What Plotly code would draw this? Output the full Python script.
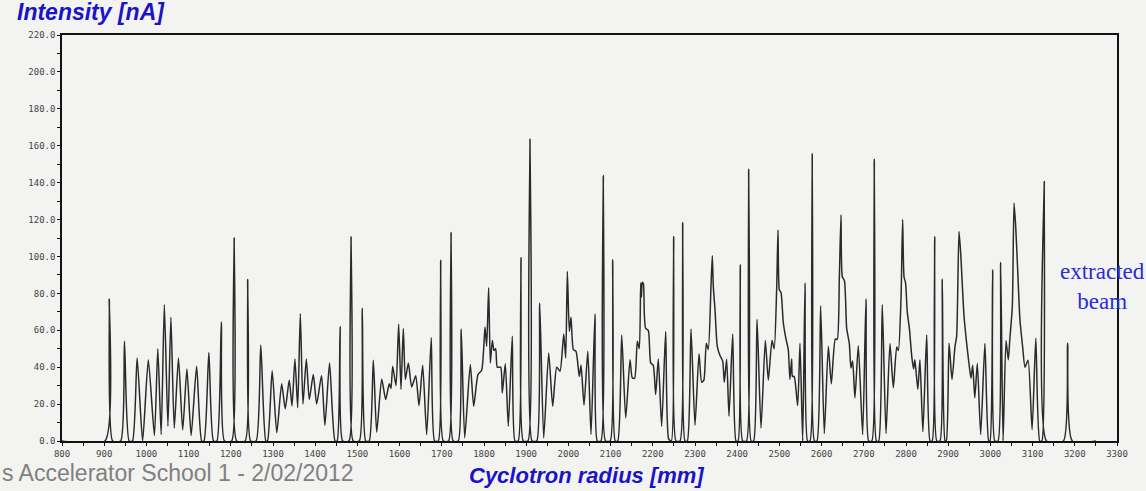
import plotly.graph_objects as go

# Traced vertices of the radial probe signal (radius in mm, intensity in nA)
radius_mm = [
    800, 902, 912, 920,
    939, 948, 959,
    967, 978, 991,
    1004.5, 1019, 1027, 1035, 1042.5, 1051, 1058, 1066, 1076, 1086, 1096, 1106, 1119, 1131,
    1136.5, 1148, 1159,
    1167, 1177.5, 1185,
    1202, 1208, 1214,
    1234, 1240, 1247,
    1260, 1271, 1283,
    1287, 1298, 1309, 1320.5, 1329, 1338.5, 1345, 1352, 1358.5, 1364.7, 1371, 1379, 1386,
    1395.5, 1403.5, 1415, 1423, 1434, 1447,
    1452, 1459, 1465,
    1480, 1485, 1490,
    1504.5, 1511.6, 1519.7,
    1528, 1537.7, 1545.7, 1557.6, 1567, 1575.6, 1579.6, 1583.6, 1591.5, 1597.8, 1603.3,
    1608.8, 1613.6, 1620.7, 1628.7, 1638.2, 1646, 1654.7, 1664.2, 1675, 1683,
    1691.7, 1697.4, 1703.5,
    1716, 1722, 1727,
    1739, 1746, 1754.3, 1767.5, 1775.6, 1785.8, 1794.5, 1802.4, 1806.3, 1811, 1815,
    1819.7, 1823.7, 1827.7, 1831.5, 1839.5, 1843.4, 1850.5, 1857.6, 1867, 1873.5,
    1881, 1887.7, 1893,
    1904, 1909, 1914,
    1925, 1932, 1941.5, 1953.3, 1962.8, 1972.3, 1980, 1989, 1993.6, 1997.5, 2002.2,
    2006.2, 2011.8, 2018, 2025.8, 2030, 2037, 2046, 2053.6, 2063, 2068.5,
    2077, 2082.7, 2088,
    2099, 2105, 2111,
    2117, 2126.3, 2135.8, 2146, 2151.4, 2157, 2163.3, 2168, 2171.3, 2173, 2175, 2177.6,
    2179.8, 2183, 2189.4, 2195, 2201, 2206.8, 2213, 2221, 2230.5, 2237.7,
    2244, 2249.5, 2255,
    2264.5, 2270.8, 2276.3,
    2281.8, 2290.5, 2300, 2309.5, 2315.8, 2321, 2326.8, 2331.5, 2337.9, 2341, 2343.4,
    2347.4, 2352.8, 2359.2, 2365.6, 2369.4, 2375, 2380.6, 2389.3, 2397.2,
    2402, 2407.3, 2413,
    2422, 2427.2, 2433,
    2439, 2447, 2456.4, 2466.6, 2473.7, 2482.5, 2487.7, 2493.5, 2496.7, 2499.8, 2503.8,
    2509.3, 2515.6, 2521, 2525, 2529, 2531, 2535, 2543.3, 2548.8, 2555.2,
    2560.7, 2566.8,
    2572.5, 2577.8, 2583,
    2589, 2597.7, 2606.4, 2615.9, 2623, 2632.5, 2637, 2642, 2646, 2649, 2654, 2659.4,
    2665.6, 2669.5, 2673.5, 2679, 2687, 2697.3, 2705.2, 2711.6,
    2719, 2724.8, 2730,
    2735.3, 2743.8, 2752.6, 2762, 2770, 2778, 2782, 2788.2, 2792, 2795.3, 2799, 2803,
    2808, 2814, 2818, 2821, 2828, 2833, 2840, 2849, 2857,
    2862, 2868, 2873,
    2880.5, 2886, 2892.6,
    2895.5, 2902, 2909, 2916, 2920, 2925.6, 2929.7, 2932.7, 2937.4, 2943.7, 2950, 2954,
    2958, 2963, 2969, 2977, 2987, 2996,
    2999, 3005.3, 3010.5,
    3018, 3024.3, 3030,
    3037, 3042.4, 3046, 3052, 3056, 3060, 3064, 3070, 3076.4, 3082, 3089.3, 3098.8,
    3107.6, 3117,
    3122, 3127.7, 3133,
    3173, 3183, 3194, 3250,
]

intensity_nA = [
    0, 0, 77, 0,
    0, 54, 0,
    0, 45, 0,
    44, 3, 50, 3.5, 74, 8, 67, 7, 45, 6, 39, 3, 40.5, 0,
    0, 48, 0,
    0, 64.5, 0,
    0, 110, 0,
    0, 87.5, 0,
    0, 52, 0,
    0, 38, 4.5, 31, 17.5, 33, 19, 44.5, 18, 69, 20, 44.5, 22.5,
    36, 20, 35.5, 8.5, 42.3, 0,
    0, 62, 0,
    0, 110.5, 0,
    0, 72, 0,
    0, 43.7, 4.8, 33.6, 22.5, 31, 28.5, 40.5, 30, 63.4, 28,
    61, 33.3, 42.3, 29.3, 35.4, 19.2, 41, 3.5, 56, 0,
    0, 98, 0,
    0, 113, 0,
    0, 60.7, 1.7, 41.4, 18.8, 36, 38.3, 61.8, 51.3, 83, 42.3,
    54.5, 49, 50, 40, 40, 26, 41.8, 8, 56.7, 0,
    0, 99.5, 0,
    0, 163.5, 0,
    0, 74.8, 1.7, 47.7, 18.8, 40, 37.8, 58, 45, 92, 59.4,
    67, 49.5, 48.6, 35, 41, 19.5, 48.6, 3.5, 68.8, 0,
    0, 143.7, 0,
    0, 98.2, 0,
    0, 57.3, 12.5, 44, 34.2, 34, 54, 50, 85.6, 78, 86, 85.3,
    69.4, 61, 59.8, 42.3, 41, 25.2, 44.5, 8, 59.4, 1,
    0, 110.8, 0,
    0, 118.4, 0,
    0, 60.7, 8.6, 47.3, 31.8, 33, 53, 49.6, 83.8, 100.4, 83.8,
    71.2, 51.3, 46.3, 43.3, 31.8, 44.3, 13.4, 58, 0,
    0, 95.5, 0,
    0, 147.3, 0,
    0, 66, 7, 54.5, 33, 54.5, 50, 82.5, 114.4, 82, 80.5,
    64, 55.3, 49.6, 33.3, 44.5, 35, 35, 19.2, 53, 0,
    85.6, 0,
    0, 155.6, 0,
    0, 73.3, 4, 51.3, 31, 55.3, 55, 88.3, 122.6, 89, 87, 61,
    53, 39.6, 43.3, 23.4, 51.6, 3.5, 77, 0,
    0, 152.7, 0,
    0, 74, 4, 52.8, 28.9, 51, 49, 77.5, 120, 89, 85.6, 69.8,
    61, 45, 39, 44, 28, 44, 5, 57.4, 0,
    0, 110.8, 0,
    0, 87.8, 0,
    0, 53, 33.3, 51, 56.8, 113.5, 101.4, 88, 68, 53, 40.5, 34,
    41, 23.4, 42, 3.5, 52.8, 0,
    0, 92.8, 0,
    0, 96.8, 0,
    54.5, 44, 55, 73, 129, 116, 96, 65.7, 51, 40, 43.8, 6.2,
    55.7, 0,
    0, 140.6, 0,
    0, 53, 0, 0,
]

x_ticks = list(range(800, 3301, 100))
y_ticks = list(range(0, 221, 20))

BG = "#f3f3f1"
BLUE = "#1a14c8"

fig = go.Figure()
fig.add_trace(go.Scatter(
    x=radius_mm, y=intensity_nA, mode="lines",
    line=dict(color="#2a2a2a", width=1.5, shape="spline", smoothing=0.6),
    hoverinfo="x+y", showlegend=False,
))

tickfont = dict(family="DejaVu Sans Mono", size=9, color="#444444")

fig.update_xaxes(
    range=[800, 3300], tickvals=x_ticks, ticktext=[str(v) for v in x_ticks],
    showgrid=False, zeroline=False, showline=True, mirror=True,
    linecolor="#111111", linewidth=1.5,
    ticks="outside", ticklen=3, tickcolor="#111111", tickwidth=1.2,
    minor=dict(dtick=50, ticks="outside", ticklen=3, tickcolor="#111111"),
    tickfont=tickfont,
)
fig.update_yaxes(
    range=[0, 220], tickvals=y_ticks, ticktext=[f"{v:.1f}" for v in y_ticks],
    showgrid=False, zeroline=False, showline=True, mirror=True,
    linecolor="#111111", linewidth=1.5,
    ticks="outside", ticklen=3, tickcolor="#111111", tickwidth=1.2,
    minor=dict(dtick=10, ticks="outside", ticklen=3, tickcolor="#111111"),
    tickfont=tickfont,
)

annotations = [
    dict(text="<b><i>Intensity [nA]</i></b>", x=-0.0445, y=1.0566,
         xanchor="left", yanchor="middle",
         font=dict(family="Liberation Sans", size=23, color=BLUE)),
    dict(text="<b><i>Cyclotron radius [mm]</i></b>", x=0.4967, y=-0.086,
         xanchor="center", yanchor="middle",
         font=dict(family="Liberation Sans", size=22, color=BLUE)),
    dict(text="extracted<br>beam", x=0.9867, y=0.38,
         xanchor="center", yanchor="middle", align="center",
         font=dict(family="Liberation Serif", size=23, color="#2b2bd9")),
    dict(text="s Accelerator School 1 - 2/02/2012", x=-0.0588, y=-0.079,
         xanchor="left", yanchor="middle",
         font=dict(family="Liberation Sans", size=23, color="#808080")),
]
for a in annotations:
    a.update(xref="paper", yref="paper", showarrow=False)

fig.update_layout(
    width=1146, height=491,
    margin=dict(l=62, r=29, t=35, b=50, pad=0),
    paper_bgcolor=BG, plot_bgcolor=BG,
    annotations=annotations,
)

fig.write_html("out.html")
